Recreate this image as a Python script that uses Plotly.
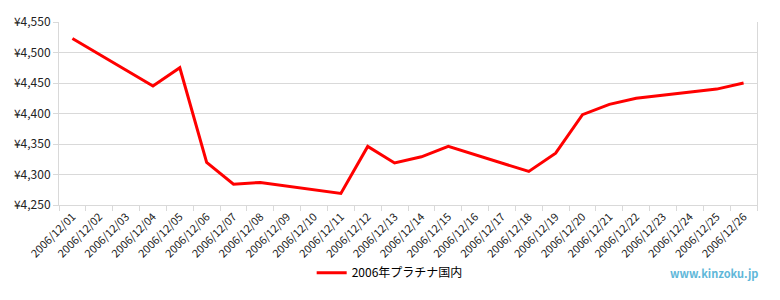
import plotly.graph_objects as go

dates = [f"2006/12/{d:02d}" for d in range(1, 27)]
prices = [4523, None, None, 4445, 4475, 4320, 4284, 4287, None, None, 4269,
          4346, 4319, 4329, 4346, None, None, 4305, 4335, 4398, 4415, 4425,
          None, None, 4440, 4450]
series_name = "2006年プラチナ国内"
y_ticks = [4250, 4300, 4350, 4400, 4450, 4500, 4550]
y_labels = [f"¥{v:,}" for v in y_ticks]

font = "Noto Sans CJK JP, Noto Sans, sans-serif"

fig = go.Figure()
fig.add_trace(go.Scatter(
    x=dates, y=prices, mode="lines", name=series_name,
    connectgaps=True, line=dict(color="#ff0000", width=3),
))

fig.update_layout(
    width=780, height=300,
    margin=dict(l=59, r=23, t=15, b=95),
    paper_bgcolor="white", plot_bgcolor="white",
    font=dict(family=font, size=11, color="#222"),
    showlegend=True,
    legend=dict(orientation="h", x=0.362, xanchor="left", y=-0.37, yanchor="middle",
                font=dict(size=12, color="#000"), itemwidth=30),
    annotations=[dict(text="<b>www.kinzoku.jp</b>", x=1.005, xanchor="right",
                      y=-0.37, yanchor="middle", xref="paper", yref="paper",
                      showarrow=False, font=dict(size=11, color="#5fb7d9"))],
)
fig.update_xaxes(
    type="category", categoryorder="array", categoryarray=dates,
    range=[-0.5, len(dates) - 0.5],
    tickangle=-45, tickfont=dict(size=11, color="#222"),
    showline=True, linecolor="#d9d9d9", linewidth=1,
    ticks="outside", tickson="boundaries", ticklen=5, tickcolor="#d9d9d9",
    showgrid=False,
)
fig.update_yaxes(
    range=[4250, 4550], tickvals=y_ticks, ticktext=y_labels,
    tickfont=dict(size=12, color="#222"),
    showgrid=True, gridcolor="#d9d9d9", gridwidth=1,
    showline=True, linecolor="#d9d9d9", mirror=True,
    ticks="outside", ticklen=5, tickcolor="#d9d9d9", zeroline=False,
)

fig.write_html("out.html")
